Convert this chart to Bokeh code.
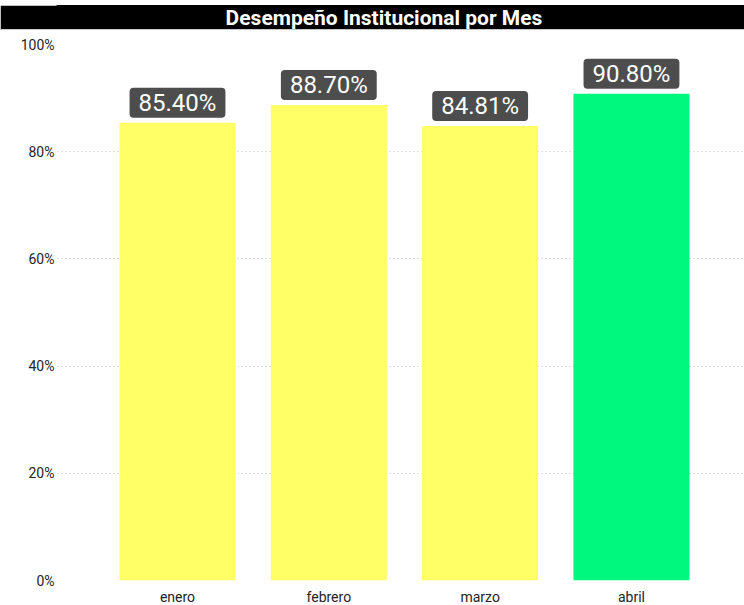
from bokeh.plotting import figure
from bokeh.models import (ColumnDataSource, Label, FixedTicker,
                          NumeralTickFormatter, Range1d, Spacer)
from bokeh.layouts import column
from bokeh.embed import file_html
from bokeh.resources import INLINE

# ---- data ----
months = ["enero", "febrero", "marzo", "abril"]
values = [0.8540, 0.8870, 0.8481, 0.9080]
colors = ["#FFFF66", "#FFFF66", "#FFFF66", "#00F87F"]
title_text = "Desempeño Institucional por Mes"

xs = list(range(1, len(months) + 1))
labels = [f"{v*100:.2f}%" for v in values]
src = ColumnDataSource(dict(x=xs, top=values, color=colors, label=labels))

W = 744
LEFT = 57

# ---- title bar ----
tp = figure(frame_width=W - LEFT, frame_height=24, toolbar_location=None,
            output_backend="svg",
            x_range=Range1d(0, 1), y_range=Range1d(0, 1),
            background_fill_color="black", border_fill_color="black",
            outline_line_color="black", outline_line_width=2,
            min_border_left=LEFT, min_border_right=0,
            min_border_top=0, min_border_bottom=0)
tp.axis.visible = False
tp.grid.visible = False
tp.add_layout(Label(x=0.5, y=0.5, x_offset=-17, text=title_text,
                    text_align="center",
                    text_baseline="middle", text_color="white",
                    text_font="Roboto", text_font_style="bold",
                    text_font_size="21px"))

# ---- main chart ----
p = figure(frame_width=W - LEFT, frame_height=536, toolbar_location=None,
           output_backend="svg",
           x_range=Range1d(0.207, 4.747), y_range=Range1d(0, 1.0),
           min_border_left=LEFT, min_border_right=0, min_border_top=14,
           min_border_bottom=10, outline_line_color=None,
           background_fill_color="white", border_fill_color="white")

p.vbar(x="x", top="top", bottom=0, width=0.767, fill_color="color",
       line_color=None, source=src)

for x, v, lab in zip(xs, values, labels):
    p.add_layout(Label(x=x, y=v, text=lab,
                       text_align="center", text_baseline="bottom",
                       y_offset=5, text_color="white", text_font="Roboto",
                       text_font_size="24px",
                       background_fill_color="#4D4D4D",
                       border_line_color=None, padding=(9, 1),
                       border_radius=4))

# axes
p.xaxis.ticker = FixedTicker(ticks=xs)
p.xaxis.major_label_overrides = {x: m for x, m in zip(xs, months)}
p.yaxis.ticker = FixedTicker(ticks=[0, 0.2, 0.4, 0.6, 0.8, 1.0])
p.yaxis.formatter = NumeralTickFormatter(format="0%")
for ax in (p.xaxis[0], p.yaxis[0]):
    ax.axis_line_color = None
    ax.major_tick_line_color = None
    ax.minor_tick_line_color = None
    ax.major_tick_out = 0
    ax.major_tick_in = 0
    ax.major_label_text_font = "Roboto"
    ax.major_label_text_font_size = "14px"
    ax.major_label_text_color = "#252423"
p.yaxis.major_label_standoff = 3
p.xaxis.major_label_standoff = 8

p.xgrid.grid_line_color = None
p.ygrid.grid_line_color = "#BDBDBD"
p.ygrid.grid_line_dash = "1 3"
p.ygrid.grid_line_width = 1

layout = column(Spacer(height=5, width=W), tp,
                Spacer(height=1, width=W, styles={"background-color": "#C8C8C8"}),
                p, spacing=0)
open("out.html", "w").write(file_html(layout, INLINE))
